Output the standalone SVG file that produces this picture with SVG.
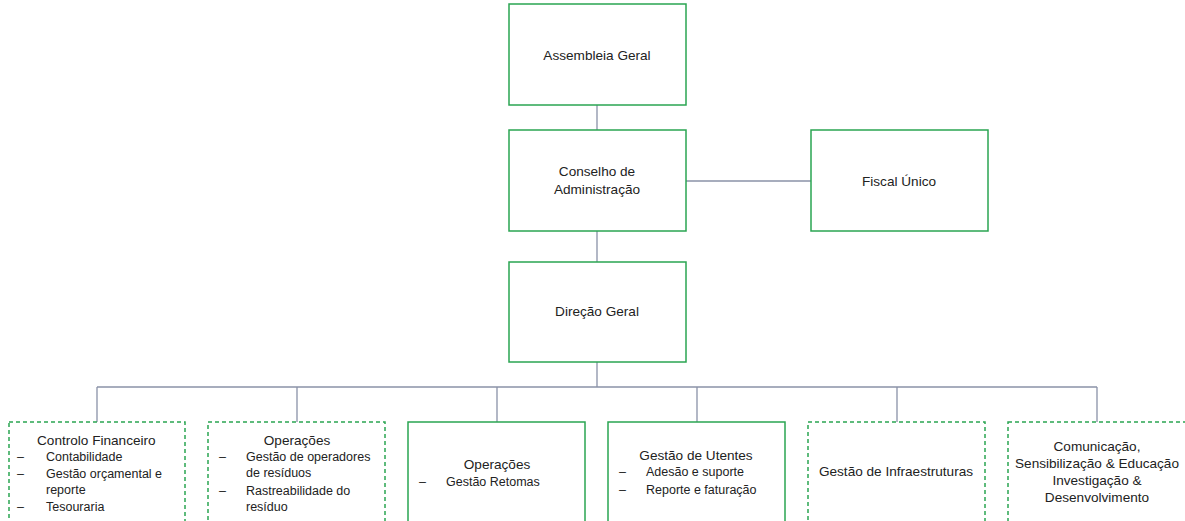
<svg xmlns="http://www.w3.org/2000/svg" width="1185" height="521" viewBox="0 0 1185 521">
<style>
.box{fill:#fff;stroke:#2aa552;stroke-width:1.5}
.dash{fill:#fff;stroke:#2aa552;stroke-width:1.5;stroke-dasharray:4 3}
.t{font-family:"Liberation Sans",Arial,sans-serif;font-size:13.6px;fill:#222}
.s{font-family:"Liberation Sans",Arial,sans-serif;font-size:12.5px;fill:#222}
.c{text-anchor:middle}
.ln{stroke:#8a92a8;stroke-width:1.3;fill:none}
</style>
<rect width="1185" height="521" fill="#fff"/>
<g id="connectors">
<path class="ln" d="M597 105V130M597 231V262M686 181H811M597 362V387M97 387H1097M97 387V422M297 387V422M497 387V422M697 387V422M897 387V422M1097 387V422"/>
</g>
<g id="assembleia"><rect class="box" x="509" y="4" width="177" height="101"/><text class="t c" x="597" y="60">Assembleia Geral</text></g>
<g id="conselho"><rect class="box" x="509" y="130" width="177" height="101"/><text class="t c" x="597" y="176">Conselho de</text><text class="t c" x="597" y="194">Administração</text></g>
<g id="fiscal"><rect class="box" x="811" y="130" width="177" height="101"/><text class="t c" x="899" y="186">Fiscal Único</text></g>
<g id="direcao"><rect class="box" x="509" y="262" width="177" height="100"/><text class="t c" x="597" y="316">Direção Geral</text></g>
<g id="controlo"><rect class="dash" x="9" y="422" width="176" height="110"/>
<text class="t" x="37" y="445">Controlo Financeiro</text>
<text class="s" x="17" y="461">–</text><text class="s" x="46" y="461">Contabilidade</text>
<text class="s" x="17" y="478">–</text><text class="s" x="46" y="478">Gestão orçamental e</text>
<text class="s" x="46" y="494">reporte</text>
<text class="s" x="17" y="511">–</text><text class="s" x="46" y="511">Tesouraria</text></g>
<g id="operacoes1"><rect class="dash" x="208" y="422" width="177" height="110"/>
<text class="t c" x="297" y="445">Operações</text>
<text class="s" x="219" y="461">–</text><text class="s" x="246" y="461">Gestão de operadores</text>
<text class="s" x="246" y="477">de resíduos</text>
<text class="s" x="219" y="495">–</text><text class="s" x="246" y="495">Rastreabilidade do</text>
<text class="s" x="246" y="511">resíduo</text></g>
<g id="operacoes2"><rect class="box" x="408" y="422" width="177" height="110"/>
<text class="t c" x="497" y="469">Operações</text>
<text class="s" x="419" y="486">–</text><text class="s" x="446" y="486">Gestão Retomas</text></g>
<g id="utentes"><rect class="box" x="608" y="422" width="177" height="110"/>
<text class="t c" x="696" y="460">Gestão de Utentes</text>
<text class="s" x="619" y="476">–</text><text class="s" x="646" y="476">Adesão e suporte</text>
<text class="s" x="619" y="494">–</text><text class="s" x="646" y="494">Reporte e faturação</text></g>
<g id="infra"><rect class="dash" x="808" y="422" width="177" height="110"/>
<text class="t c" x="896" y="476">Gestão de Infraestruturas</text></g>
<g id="comunicacao"><rect class="dash" x="1008" y="422" width="185" height="110"/>
<text class="t c" x="1097" y="451">Comunicação,</text>
<text class="t c" x="1097" y="468">Sensibilização &amp; Educação</text>
<text class="t c" x="1097" y="485">Investigação &amp;</text>
<text class="t c" x="1097" y="502">Desenvolvimento</text></g>
</svg>
